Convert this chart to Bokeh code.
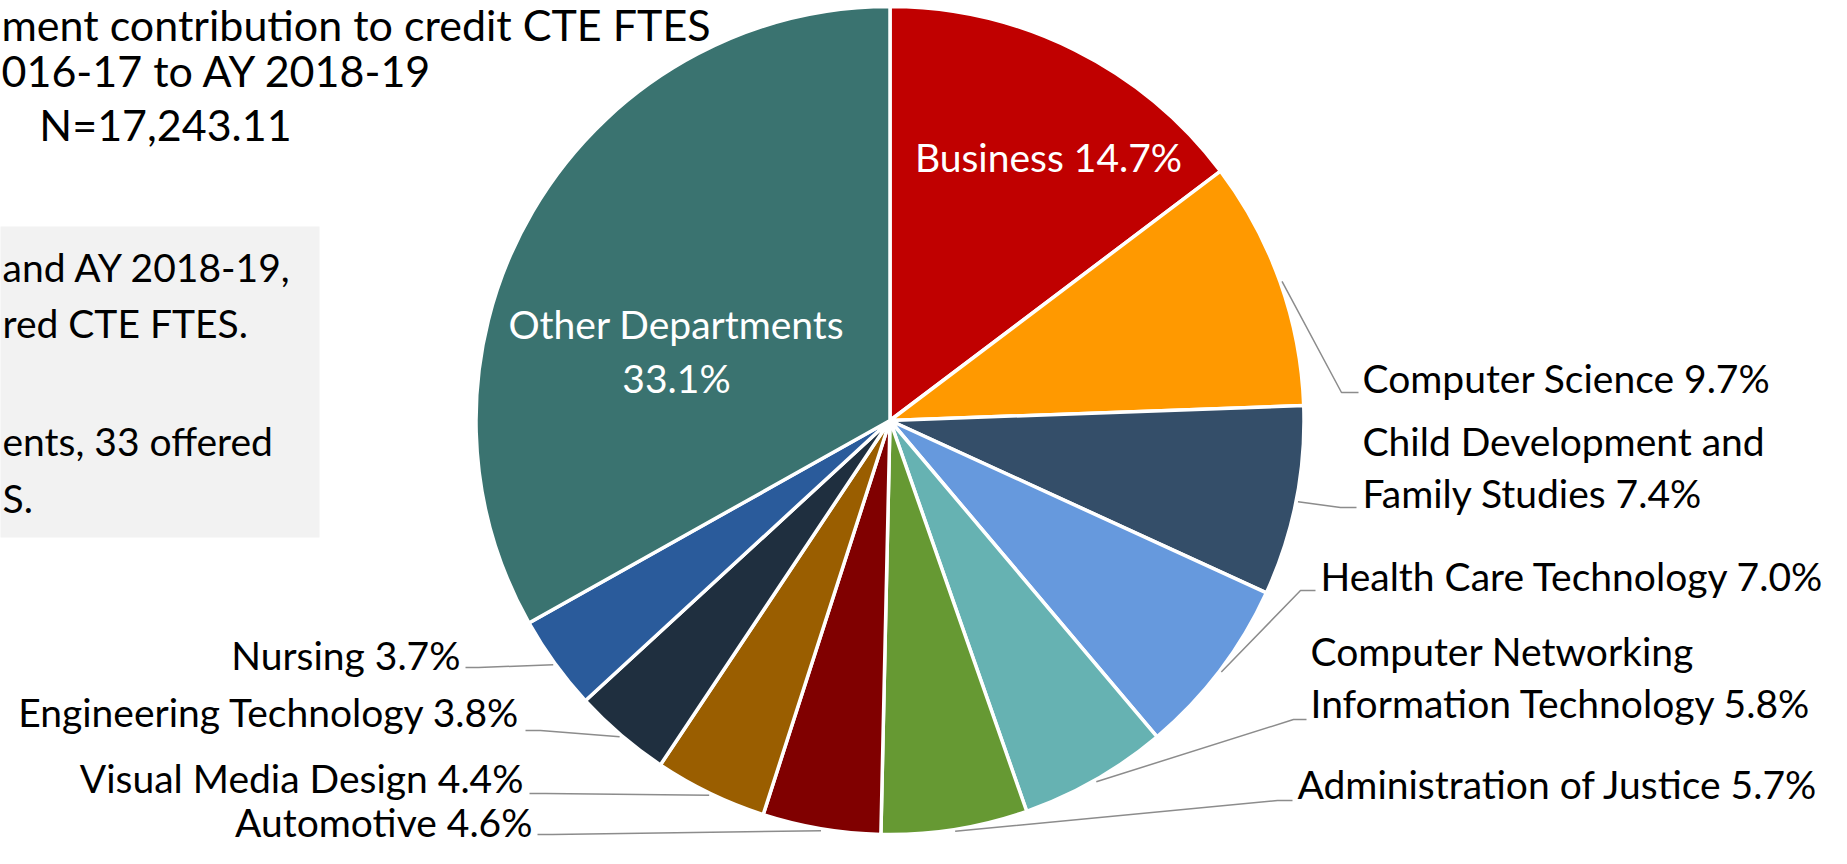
import math
from bokeh.plotting import figure
from bokeh.models import Range1d
from bokeh.core.properties import value
from bokeh.embed import file_html
from bokeh.resources import INLINE

# ---------------- data ----------------
departments = [
    "Business", "Computer Science", "Child Development and Family Studies",
    "Health Care Technology", "Computer Networking Information Technology",
    "Administration of Justice", "Automotive", "Visual Media Design",
    "Engineering Technology", "Nursing", "Other Departments",
]
shares = [14.7, 9.7, 7.4, 7.0, 5.8, 5.7, 4.6, 4.4, 3.8, 3.7, 33.1]
label_names = [
    "Business", "Computer Science", "Child Development and\nFamily Studies",
    "Health Care Technology", "Computer Networking\nInformation Technology",
    "Administration of Justice", "Automotive", "Visual Media Design",
    "Engineering Technology", "Nursing", "Other Departments\n",
]
colors = ["#C00000", "#FF9900", "#344E69", "#6699DD", "#66B2B2", "#669933",
          "#800000", "#9A5E00", "#1F2F3F", "#2A5B9B", "#3A7370"]

title_lines = ["ment contribution to credit CTE FTES", "016-17 to AY 2018-19", "N=17,243.11"]
note_lines = ["and AY 2018-19,", "red CTE FTES.", "ents, 33 offered", "S."]

# ---------------- layout (screen px) ----------------
W, H = 1831, 848
def X(sx): return sx
def Y(sy): return H - sy

CX, CY, R = 889.5, 420, 414
FONT = value("Lato")
LBL_PX, TTL_PX = 39, 43
LBL = f"{LBL_PX}px"
TTL = f"{TTL_PX}px"
LINE_GAP = 52
def BL(sy, px):  # screen baseline -> glyph y (compensate renderer baseline offset)
    return Y(sy - 0.38 * px)

# (align, x, baseline of last line, leader elbow x, leader end x, leader y)
placement = [
    ("center", 1048, 171, None, None, None),
    ("left", 1362, 392, 1341, 1358, 392),
    ("left", 1362, 507, 1340, 1356, 507),
    ("left", 1320, 590, 1300, 1315, 590),
    ("left", 1310, 717, 1293, 1306, 719),
    ("left", 1297, 798, 1277, 1292, 800),
    ("right", 532, 836, 552, 537, 834),
    ("right", 523, 792, 545, 529, 793),
    ("right", 520, 726, 540, 525, 730),
    ("right", 460, 669, 478, 465, 667),
    ("center", 676, 392, None, None, None),
]

p = figure(width=W, height=H, x_range=Range1d(0, W), y_range=Range1d(0, H),
           output_backend="svg", toolbar_location=None, min_border=0,
           x_axis_location=None, y_axis_location=None)
p.grid.visible = False
p.outline_line_color = None
p.background_fill_color = "white"
p.border_fill_color = "white"

# note box
p.quad(left=[X(0) - 1], right=[X(319)], top=[Y(226)], bottom=[Y(537)],
       fill_color="#F2F2F2", line_color=None)

# wedges
total = sum(shares)
starts, ends, mids = [], [], []
cum = 0.0
for s in shares:
    a0 = math.pi / 2 - 2 * math.pi * cum / total
    cum += s
    a1 = math.pi / 2 - 2 * math.pi * cum / total
    starts.append(a0); ends.append(a1); mids.append((a0 + a1) / 2)

p.wedge(x=X(CX), y=Y(CY), radius=R, start_angle=starts, end_angle=ends,
        direction="clock", fill_color=colors, line_color="white", line_width=3.5)

# labels and leaders
lead_xs, lead_ys = [], []
txt = {"left": ([], [], []), "right": ([], [], []), "center": ([], [], [])}
for i, (name, share) in enumerate(zip(label_names, shares)):
    align, tx, tb, ex, endx, ly = placement[i]
    if i == 10:
        lines = [name.strip(), f"{share}%"]
        gap = 54
    else:
        lines = f"{name} {share}%".split("\n")
        gap = LINE_GAP
    n = len(lines)
    for k, line in enumerate(lines):
        xs, ys, ts = txt[align]
        xs.append(X(tx)); ys.append(BL(tb - (n - 1 - k) * gap, LBL_PX)); ts.append(line)
    if ex is not None:
        ang = mids[i]
        sx = CX + (R + 2) * math.cos(ang)
        sy = CY - (R + 2) * math.sin(ang)
        lead_xs.append([X(sx), X(ex), X(endx)])
        lead_ys.append([Y(sy), Y(ly), Y(ly)])

p.multi_line(xs=lead_xs, ys=lead_ys, line_color="#8C8C8C", line_width=1.5)

for align, (xs, ys, ts) in txt.items():
    p.text(x=xs, y=ys, text=ts, text_font=FONT, text_font_size=LBL,
           text_align=align, text_baseline="alphabetic",
           text_color="white" if align == "center" else "black")

# title
p.text(x=[X(1), X(1)], y=[BL(40, TTL_PX), BL(86, TTL_PX)], text=title_lines[:2], text_font=FONT,
       text_font_size=TTL, text_align="left", text_baseline="alphabetic", text_color="black")
p.text(x=[X(165)], y=[BL(140, TTL_PX)], text=title_lines[2:], text_font=FONT,
       text_font_size=TTL, text_align="center", text_baseline="alphabetic", text_color="black")

# note text
p.text(x=[X(2)] * 4, y=[BL(281, LBL_PX), BL(337, LBL_PX), BL(455, LBL_PX), BL(512, LBL_PX)],
       text=note_lines, text_font=FONT, text_font_size=LBL, text_align="left",
       text_baseline="alphabetic", text_color="black")

open("out.html", "w").write(file_html(p, INLINE))
